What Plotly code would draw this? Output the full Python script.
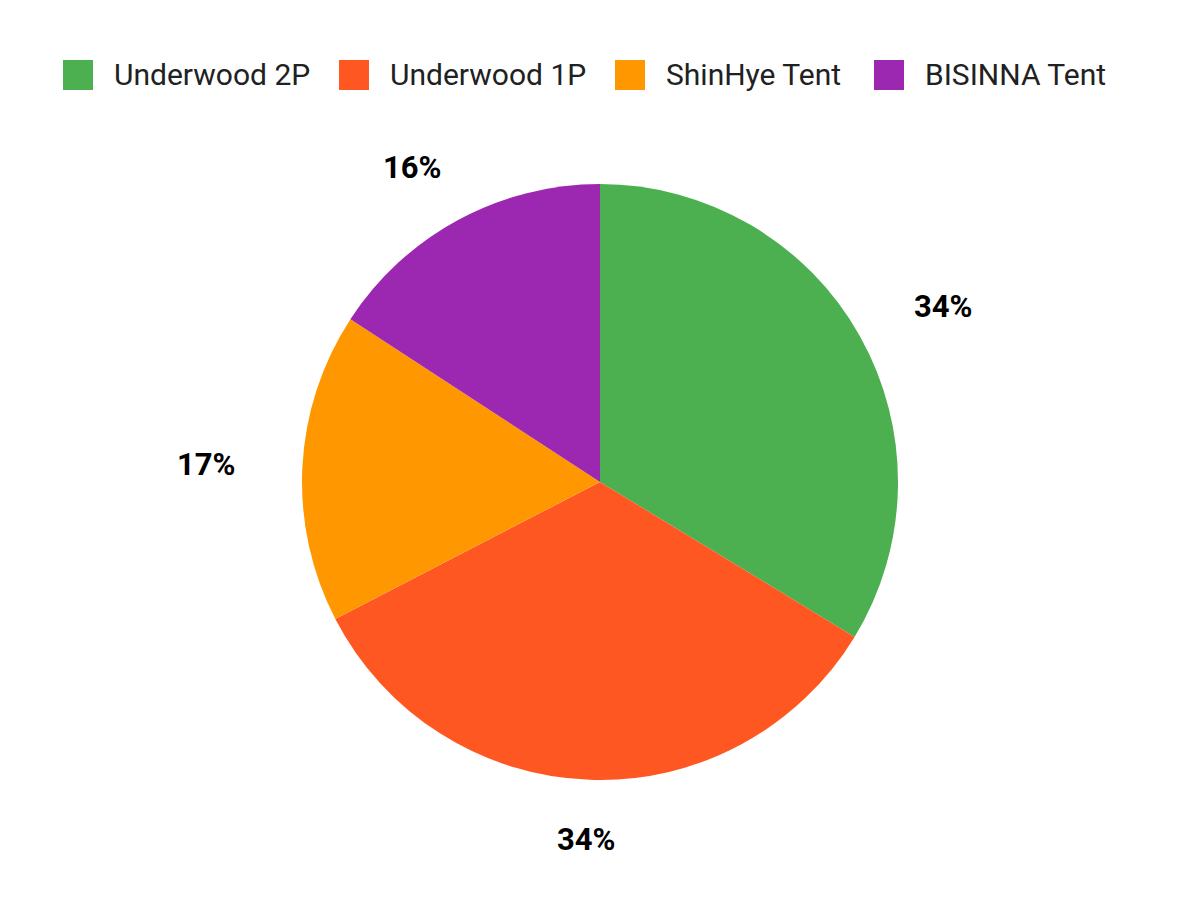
import math
import plotly.graph_objects as go

# tent names and their share of the total
tents = ["Underwood 2P", "Underwood 1P", "ShinHye Tent", "BISINNA Tent"]
shares = [33.7, 33.7, 16.8, 15.8]
colors = ["#4CAF50", "#FF5722", "#FF9800", "#9C27B0"]

# page geometry (pixels)
W, H = 1200, 900
ML, MR, MT, MB = 192, 208, 176, 128
PW = W - ML - MR
PH = H - MT - MB
R = min(PW, PH) / 2.0

# legend layout (pixels from top-left)
legendSquareX = [55, 331, 607, 866]
legendTextX = [104, 380, 656, 915]
legendY = 67
legendSquare = 30

# outside label placement
labelGap = 49
labelHalfW = 46.5
labelHalfH = 11


def toPaperX(px):
    return (px - ML) / PW


def toPaperY(py):
    return 1 - (py - MT) / PH


fig = go.Figure()
fig.add_trace(go.Pie(
    labels=tents,
    values=shares,
    sort=False,
    direction="clockwise",
    rotation=0,
    marker=dict(colors=colors, line=dict(width=0)),
    textinfo="none",
    hoverinfo="label+percent",
    showlegend=False,
))

# percent labels outside the slices
total = sum(shares)
start = 0.0
cx = ML + PW / 2.0
cy = MT + PH / 2.0
for v in shares:
    frac = v / total
    mid = (start + frac / 2.0) * 2 * math.pi
    start += frac
    px = cx + (R + labelGap + labelHalfW) * math.sin(mid)
    py = cy - (R + labelGap + labelHalfH) * math.cos(mid)
    fig.add_annotation(
        x=toPaperX(px), y=toPaperY(py), xref="paper", yref="paper",
        text="<b>%d%%</b>" % round(frac * 100),
        showarrow=False, xanchor="center", yanchor="middle",
        font=dict(family="Roboto", size=31, color="#000000"),
    )

# legend row on top
for i in range(len(tents)):
    x0 = legendSquareX[i]
    fig.add_shape(
        type="rect", xref="paper", yref="paper",
        x0=toPaperX(x0), x1=toPaperX(x0 + legendSquare),
        y0=toPaperY(legendY - legendSquare / 2.0), y1=toPaperY(legendY + legendSquare / 2.0),
        fillcolor=colors[i], line=dict(width=0),
    )
    fig.add_annotation(
        x=toPaperX(legendTextX[i]), y=toPaperY(legendY), xref="paper", yref="paper",
        text=tents[i], showarrow=False, xanchor="left", yanchor="middle",
        font=dict(family="Roboto", size=30, color="#212121"),
    )

fig.update_layout(
    width=W,
    height=H,
    paper_bgcolor="white",
    plot_bgcolor="white",
    font=dict(family="Roboto", size=26, color="#222222"),
    margin=dict(l=ML, r=MR, t=MT, b=MB),
    showlegend=False,
)

fig.write_html("out.html")
